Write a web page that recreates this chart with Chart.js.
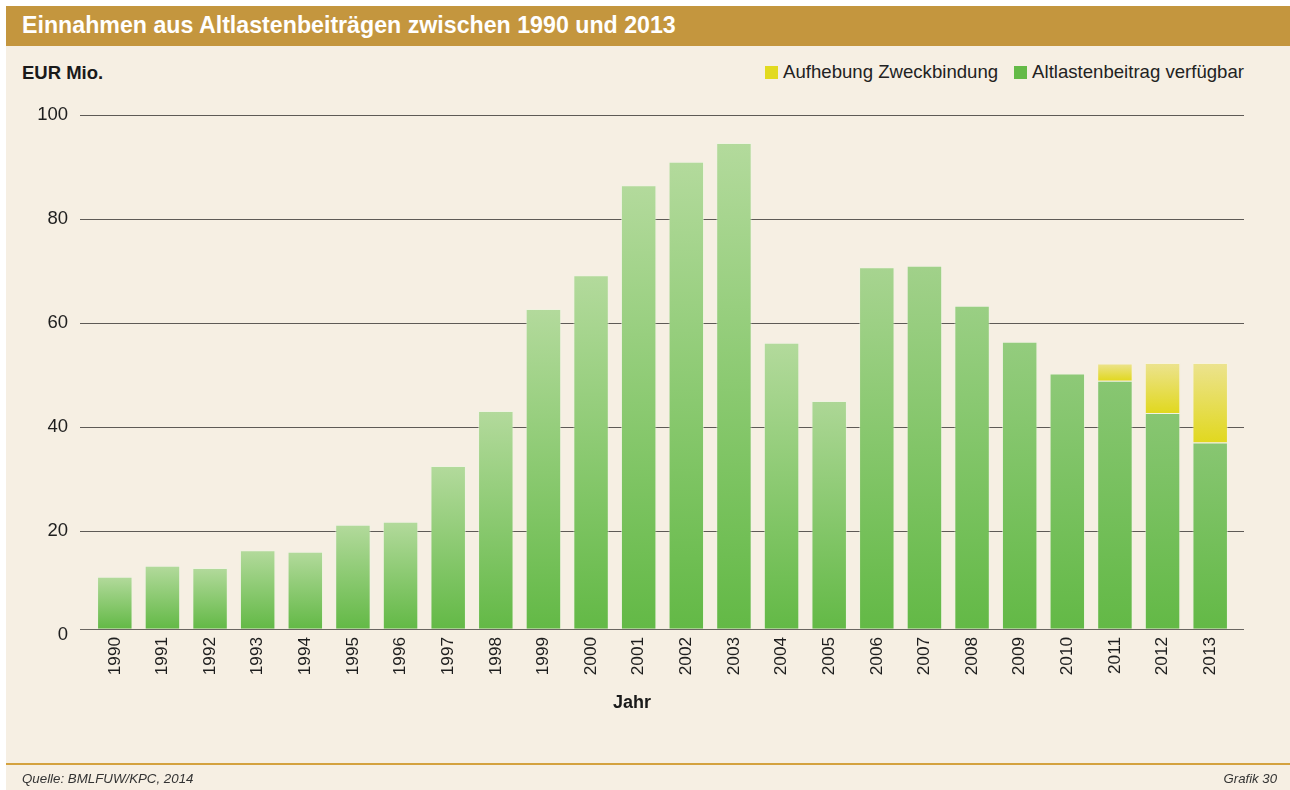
<!DOCTYPE html>
<html>
<head>
<meta charset="utf-8">
<script src="https://cdn.jsdelivr.net/npm/chart.js@4.4.1/dist/chart.umd.min.js"></script>
<style>
  html, body { margin: 0; padding: 0; background: #ffffff; }
  body { width: 1290px; height: 790px; position: relative; overflow: hidden; font-family: "Liberation Sans", Arial, sans-serif; }
  #panel { position: absolute; left: 6px; top: 6px; width: 1284px; height: 784px; background: #F6EFE3; }
  #titlebar { position: absolute; left: 0; top: 0; width: 1284px; height: 40px; background: #C4963E; }
  #title { position: absolute; left: 22px; top: 12px; color: #ffffff; font-weight: bold; font-size: 23.2px; white-space: nowrap; }
  #unit { position: absolute; left: 22px; top: 62px; color: #1a1a1a; font-weight: bold; font-size: 18.5px; white-space: nowrap; }
  #legend { position: absolute; right: 46px; top: 61px; display: flex; gap: 16px; font-size: 18.6px; color: #222; white-space: nowrap; }
  .li { display: flex; align-items: center; }
  .sw { width: 13px; height: 13px; margin-right: 5px; }
  #jahr { position: absolute; left: 632px; top: 692px; transform: translateX(-50%); font-weight: bold; font-size: 18px; color: #1a1a1a; }
  #footline { position: absolute; left: 6px; top: 763px; width: 1284px; height: 2px; background: #D4A23F; }
  #src { position: absolute; left: 22px; top: 771px; font-style: italic; font-size: 13.3px; color: #333; white-space: nowrap; }
  #graf { position: absolute; right: 13px; top: 771px; font-style: italic; font-size: 13.2px; color: #333; white-space: nowrap; }
  #wrap { position: absolute; left: 0; top: 0; width: 1290px; height: 790px; }
</style>
</head>
<body>
<div id="panel"><div id="titlebar"></div></div>
<div id="title">Einnahmen aus Altlastenbeiträgen zwischen 1990 und 2013</div>
<div id="unit">EUR Mio.</div>
<div id="legend"></div>
<div id="wrap"><canvas id="c" width="1290" height="790"></canvas></div>
<div id="jahr">Jahr</div>
<div id="footline"></div>
<div id="src">Quelle: BMLFUW/KPC, 2014</div>
<div id="graf">Grafik 30</div>
<script>
// ---- data ----
const years = ['1990','1991','1992','1993','1994','1995','1996','1997','1998','1999','2000','2001','2002','2003','2004','2005','2006','2007','2008','2009','2010','2011','2012','2013'];
const verfuegbar = [11.2, 13.3, 12.9, 16.3, 16.0, 21.2, 21.8, 32.5, 43.1, 62.7, 69.2, 86.5, 91.0, 94.6, 56.2, 45.0, 70.7, 71.0, 63.3, 56.4, 50.3, 48.9, 42.7, 37.0];
const aufhebung = [null, null, null, null, null, null, null, null, null, null, null, null, null, null, null, null, null, null, null, null, null, 3.3, 9.6, 15.3];
const yTicks = [0, 20, 40, 60, 80, 100];
const seriesNames = ['Altlastenbeitrag verfügbar', 'Aufhebung Zweckbindung'];

// ---- style ----
const BASE = 1.2;             // baseline of the bars (axis line drawn there)
const GREEN = '#64BA47';
const YELLOW = '#E2DA1F';

function mix(a, b, t) {
  const pa = a.match(/\w\w/g).map(h => parseInt(h, 16));
  const pb = b.match(/\w\w/g).map(h => parseInt(h, 16));
  return 'rgb(' + pa.map((v, i) => Math.round(v + (pb[i] - v) * t)).join(',') + ')';
}

function greenFill(ctx) {
  const chart = ctx.chart;
  if (!chart.chartArea || ctx.type !== 'data' || ctx.raw == null) return GREEN;
  const ys = chart.scales.y;
  const top = ys.getPixelForValue(ctx.raw);
  const bot = ys.getPixelForValue(BASE);
  if (!isFinite(top) || !isFinite(bot) || top === bot) return GREEN;
  const t = Math.max(0, Math.min(1, (ctx.dataIndex - 14) / 7));
  const g = chart.ctx.createLinearGradient(0, top, 0, bot);
  g.addColorStop(0, mix('B3DA9C', '88C672', t));
  g.addColorStop(1, '#63B946');
  return g;
}

function yellowFill(ctx) {
  const chart = ctx.chart;
  if (!chart.chartArea || ctx.type !== 'data' || ctx.raw == null) return YELLOW;
  const ys = chart.scales.y;
  const lower = verfuegbar[ctx.dataIndex];
  const top = ys.getPixelForValue(lower + ctx.raw);
  const bot = ys.getPixelForValue(lower);
  if (!isFinite(top) || !isFinite(bot) || top === bot) return YELLOW;
  const g = chart.ctx.createLinearGradient(0, top, 0, bot);
  g.addColorStop(0, '#ECE38F');
  g.addColorStop(1, '#E1D81F');
  return g;
}

// horizontal grid lines and axis line, slightly wider than the category band
const gridPlugin = {
  id: 'extGrid',
  beforeDatasetsDraw(chart) {
    const {ctx, chartArea, scales: {y}} = chart;
    const x0 = chartArea.left - 11, x1 = chartArea.right + 10;
    ctx.save();
    ctx.lineWidth = 1;
    ctx.strokeStyle = '#5E5A56';
    yTicks.forEach(v => {
      if (v === 0) return;
      const py = Math.round(y.getPixelForValue(v)) + 0.5;
      ctx.beginPath(); ctx.moveTo(x0, py); ctx.lineTo(x1, py); ctx.stroke();
    });
    ctx.strokeStyle = '#6A6661';
    const pb = Math.round(y.getPixelForValue(BASE)) + 0.5;
    ctx.beginPath(); ctx.moveTo(x0, pb); ctx.lineTo(x1, pb); ctx.stroke();
    ctx.restore();
  }
};

const chart = new Chart(document.getElementById('c'), {
  type: 'bar',
  data: {
    labels: years,
    datasets: [
      { label: seriesNames[0], data: verfuegbar, base: BASE, backgroundColor: greenFill, legendColor: GREEN,
        borderColor: 'rgba(235,246,226,0.55)', borderWidth: 1, borderSkipped: 'bottom' },
      { label: seriesNames[1], data: aufhebung, backgroundColor: yellowFill, legendColor: YELLOW,
        borderColor: 'rgba(250,247,215,0.5)', borderWidth: 1, borderSkipped: 'bottom' }
    ]
  },
  options: {
    responsive: false,
    animation: false,
    devicePixelRatio: 1,
    layout: { padding: { left: 6, right: 56, top: 115, bottom: 95 } },
    datasets: { bar: { barPercentage: 0.745, categoryPercentage: 1.0 } },
    plugins: { legend: { display: false }, tooltip: { enabled: false } },
    scales: {
      x: {
        stacked: true,
        grid: { display: false, drawTicks: false },
        border: { display: false },
        ticks: { color: '#1e1e1e', font: { family: '"Liberation Sans", Arial, sans-serif', size: 17.2 }, minRotation: 90, maxRotation: 90, padding: 2, autoSkip: false },
        afterFit(scale) { scale.height = 60; }
      },
      y: {
        stacked: true,
        min: 0, max: 100,
        afterBuildTicks(scale) { scale.ticks = yTicks.map(v => ({ value: v })); },
        grid: { display: false, drawTicks: false },
        border: { display: false },
        ticks: { color: '#1e1e1e', font: { family: '"Liberation Sans", Arial, sans-serif', size: 18.5 }, padding: 23 },
        afterFit(scale) { scale.width = 85; }
      }
    }
  },
  plugins: [gridPlugin]
});

// HTML legend built from the chart's datasets (reverse order)
const lg = document.getElementById('legend');
chart.data.datasets.slice().reverse().forEach(ds => {
  const item = document.createElement('div'); item.className = 'li';
  const sw = document.createElement('span'); sw.className = 'sw'; sw.style.background = ds.legendColor;
  const tx = document.createElement('span'); tx.textContent = ds.label;
  item.appendChild(sw); item.appendChild(tx); lg.appendChild(item);
});
</script>
</body>
</html>
